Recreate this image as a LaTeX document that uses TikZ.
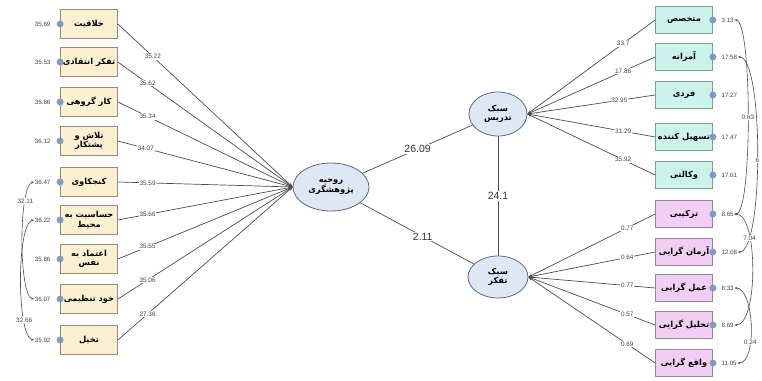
\documentclass[tikz,border=0pt]{standalone}
\usepackage{fontspec}
\setmainfont{Liberation Sans}
\newfontfamily\farsi[Script=Arabic]{DejaVu Sans}
\TeXXeTstate=1
\usetikzlibrary{shapes.geometric,arrows.meta}
\newcommand{\fa}[1]{{\farsi\bfseries\beginR #1\endR}}

\definecolor{ylwfill}{HTML}{FBF1D2}
\definecolor{ylwdraw}{HTML}{968A70}
\definecolor{cynfill}{HTML}{CCF2EC}
\definecolor{cyndraw}{HTML}{7A9C97}
\definecolor{pnkfill}{HTML}{F2CDF4}
\definecolor{pnkdraw}{HTML}{948599}
\definecolor{ellfill}{HTML}{DDE8F4}
\definecolor{elldraw}{HTML}{5E6B78}
\definecolor{errblue}{HTML}{7E9CC0}
\definecolor{numgray}{HTML}{444444}

\tikzset{
  leftbox/.style={draw=ylwdraw, fill=ylwfill, line width=0.8pt, minimum width=57pt, minimum height=29pt,
    inner sep=1pt, align=center, font=\fontsize{8.3}{9.5}\selectfont},
  topbox/.style={leftbox, draw=cyndraw, fill=cynfill, minimum height=27pt},
  botbox/.style={leftbox, draw=pnkdraw, fill=pnkfill, minimum height=27pt},
  latent/.style={ellipse, draw=elldraw, fill=ellfill, thick, inner sep=0pt, align=center,
    font=\fontsize{8.3}{9.5}\selectfont},
  errdot/.style={circle, fill=errblue, minimum size=7pt, inner sep=0pt},
  num/.style={fill=white, inner sep=0.8pt, text=numgray, font=\fontsize{6.4}{6.4}\selectfont},
  errnum/.style={inner sep=0.5pt, text=numgray, font=\fontsize{6.2}{6.2}\selectfont},
  big/.style={fill=white, inner sep=1pt, text=black!80, font=\fontsize{10.5}{11}\selectfont},
  load/.style={draw=black!70, line width=0.7pt},
  covar/.style={draw=black!70, line width=0.6pt, {Stealth[length=3pt]}-{Stealth[length=3pt]}},
}

\begin{document}
\begin{tikzpicture}[x=1pt, y=-1pt]
  \useasboundingbox (0,0) rectangle (762,380);

  % Latent variables (ellipses)
  \node[latent, minimum width=76pt, minimum height=48pt] (spirit) at (331,187) {\fa{روحیه}\\\fa{پژوهشگری}};
  \node[latent, minimum width=58pt, minimum height=44pt] (teach) at (498,114) {\fa{سبک}\\\fa{تدریس}};
  \node[latent, minimum width=60pt, minimum height=42pt] (think) at (498,277) {\fa{سبک}\\\fa{تفکر}};

  % Left indicators (research spirit)
  \node[leftbox] (creat) at (89,24) {\fa{خلاقیت}};
  \node[leftbox] (critic) at (89,62) {\fa{تفکر انتقادی}};
  \node[leftbox] (group) at (89,102) {\fa{کار گروهی}};
  \node[leftbox] (effort) at (89,141) {\fa{تلاش و}\\\fa{پشتکار}};
  \node[leftbox] (curio) at (89,182) {\fa{کنجکاوی}};
  \node[leftbox] (sensit) at (89,220) {\fa{حساسیت به}\\\fa{محیط}};
  \node[leftbox] (confid) at (89,259) {\fa{اعتماد به}\\\fa{نفس}};
  \node[leftbox] (selfreg) at (89,299) {\fa{خود تنظیمی}};
  \node[leftbox] (imagin) at (89,340) {\fa{تخیل}};

  % Left error terms
  \node[errdot] (dcreat) at (creat.west) {};
  \node[errdot] (dcritic) at (critic.west) {};
  \node[errdot] (dgroup) at (group.west) {};
  \node[errdot] (deffort) at (effort.west) {};
  \node[errdot] (dcurio) at (curio.west) {};
  \node[errdot] (dsensit) at (sensit.west) {};
  \node[errdot] (dconfid) at (confid.west) {};
  \node[errdot] (dselfreg) at (selfreg.west) {};
  \node[errdot] (dimagin) at (imagin.west) {};
  \node[errnum, anchor=east] (vcreat) at ([xshift=-9pt]creat.west) {35.69};
  \node[errnum, anchor=east] (vcritic) at ([xshift=-9pt]critic.west) {35.53};
  \node[errnum, anchor=east] (vgroup) at ([xshift=-9pt]group.west) {35.86};
  \node[errnum, anchor=east] (veffort) at ([xshift=-9pt]effort.west) {36.12};
  \node[errnum, anchor=east] (vcurio) at ([xshift=-9pt]curio.west) {36.47};
  \node[errnum, anchor=east] (vsensit) at ([xshift=-9pt]sensit.west) {36.22};
  \node[errnum, anchor=east] (vconfid) at ([xshift=-9pt]confid.west) {35.86};
  \node[errnum, anchor=east] (vselfreg) at ([xshift=-9pt]selfreg.west) {36.07};
  \node[errnum, anchor=east] (vimagin) at ([xshift=-9pt]imagin.west) {35.92};

  % Left loadings
  \draw[load, -{Stealth[length=4pt]}] (creat.east) -- node[num, pos=0.2] {35.22} (spirit.west);
  \draw[load, -{Stealth[length=4pt]}] (critic.east) -- node[num, pos=0.17] {35.62} (spirit.west);
  \draw[load, -{Stealth[length=4pt]}] (group.east) -- node[num, pos=0.17] {35.34} (spirit.west);
  \draw[load, -{Stealth[length=4pt]}] (effort.east) -- node[num, pos=0.16] {34.07} (spirit.west);
  \draw[load, -{Stealth[length=4pt]}] (curio.east) -- node[num, pos=0.17] {35.59} (spirit.west);
  \draw[load, -{Stealth[length=4pt]}] (sensit.east) -- node[num, pos=0.17] {35.66} (spirit.west);
  \draw[load, -{Stealth[length=4pt]}] (confid.east) -- node[num, pos=0.17] {35.55} (spirit.west);
  \draw[load, -{Stealth[length=4pt]}] (selfreg.east) -- node[num, pos=0.17] {35.06} (spirit.west);
  \draw[load, -{Stealth[length=4pt]}] (imagin.east) -- node[num, pos=0.17] {27.36} (spirit.west);

  % Left error covariances
  \draw[covar] (vcurio.west) to[out=190, in=170, distance=16pt] node[num, pos=0.25] {32.11} (vselfreg.west);
  \draw[covar] (vsensit.west) to[out=190, in=170, distance=18pt] node[num, pos=0.75] {32.66} (vimagin.west);

  % Structural paths
  \draw[load] (spirit) -- node[big] {26.09} (teach);
  \draw[load] (spirit) -- node[big, pos=0.55] {2.11} (think);
  \draw[load] (teach) -- node[big] {24.1} (think);

  % Right indicators (teaching style)
  \node[topbox] (expert) at (684,20) {\fa{متخصص}};
  \node[topbox] (author) at (684,57) {\fa{آمرانه}};
  \node[topbox] (person) at (684,95) {\fa{فردی}};
  \node[topbox] (facil) at (684,137) {\fa{تسهیل کننده}};
  \node[topbox] (deleg) at (684,175) {\fa{وکالتی}};

  % Right indicators (thinking style)
  \node[botbox] (synth) at (684,214) {\fa{ترکیبی}};
  \node[botbox] (ideal) at (684,252) {\fa{آرمان گرایی}};
  \node[botbox] (pragm) at (684,288) {\fa{عمل گرایی}};
  \node[botbox] (analy) at (684,325) {\fa{تحلیل گرایی}};
  \node[botbox] (reali) at (684,363) {\fa{واقع گرایی}};

  % Right error terms
  \node[errdot] (dexpert) at (expert.east) {};
  \node[errdot] (dauthor) at (author.east) {};
  \node[errdot] (dperson) at (person.east) {};
  \node[errdot] (dfacil) at (facil.east) {};
  \node[errdot] (ddeleg) at (deleg.east) {};
  \node[errdot] (dsynth) at (synth.east) {};
  \node[errdot] (dideal) at (ideal.east) {};
  \node[errdot] (dpragm) at (pragm.east) {};
  \node[errdot] (danaly) at (analy.east) {};
  \node[errdot] (dreali) at (reali.east) {};
  \node[errnum, anchor=west] (vexpert) at ([xshift=8pt]expert.east) {3.13};
  \node[errnum, anchor=west] (vauthor) at ([xshift=8pt]author.east) {17.58};
  \node[errnum, anchor=west] (vperson) at ([xshift=8pt]person.east) {17.27};
  \node[errnum, anchor=west] (vfacil) at ([xshift=8pt]facil.east) {17.47};
  \node[errnum, anchor=west] (vdeleg) at ([xshift=8pt]deleg.east) {17.61};
  \node[errnum, anchor=west] (vsynth) at ([xshift=8pt]synth.east) {8.65};
  \node[errnum, anchor=west] (videal) at ([xshift=8pt]ideal.east) {12.08};
  \node[errnum, anchor=west] (vpragm) at ([xshift=8pt]pragm.east) {8.33};
  \node[errnum, anchor=west] (vanaly) at ([xshift=8pt]analy.east) {8.69};
  \node[errnum, anchor=west] (vreali) at ([xshift=8pt]reali.east) {11.05};

  % Right loadings
  \draw[load, {Stealth[length=4pt]}-] (teach.east) -- node[num, pos=0.75] {33.7} (expert.west);
  \draw[load, {Stealth[length=4pt]}-] (teach.east) -- node[num, pos=0.75] {17.86} (author.west);
  \draw[load, {Stealth[length=4pt]}-] (teach.east) -- node[num, pos=0.72] {32.95} (person.west);
  \draw[load, {Stealth[length=4pt]}-] (teach.east) -- node[num, pos=0.75] {31.29} (facil.west);
  \draw[load, {Stealth[length=4pt]}-] (teach.east) -- node[num, pos=0.75] {35.92} (deleg.west);
  \draw[load, {Stealth[length=4pt]}-] (think.east) -- node[num, pos=0.78] {0.77} (synth.west);
  \draw[load, {Stealth[length=4pt]}-] (think.east) -- node[num, pos=0.78] {0.64} (ideal.west);
  \draw[load, {Stealth[length=4pt]}-] (think.east) -- node[num, pos=0.78] {0.77} (pragm.west);
  \draw[load, {Stealth[length=4pt]}-] (think.east) -- node[num, pos=0.78] {0.57} (analy.west);
  \draw[load, {Stealth[length=4pt]}-] (think.east) -- node[num, pos=0.78] {0.69} (reali.west);

  % Right error covariances
  \draw[covar] (vexpert.east) to[out=0, in=0, distance=18pt] node[num] {0.63} (vsynth.east);
  \draw[covar] (vauthor.east) to[out=0, in=0, distance=26pt] node[num, pos=0.52] {6} (videal.east);
  \draw[covar] (vsynth.east) to[out=0, in=0, distance=24pt] node[num, pos=0.3] {7.04} (vanaly.east);
  \draw[covar] (vpragm.east) to[out=0, in=0, distance=20pt] node[num, pos=0.65] {0.24} (vreali.east);

\end{tikzpicture}
\end{document}
